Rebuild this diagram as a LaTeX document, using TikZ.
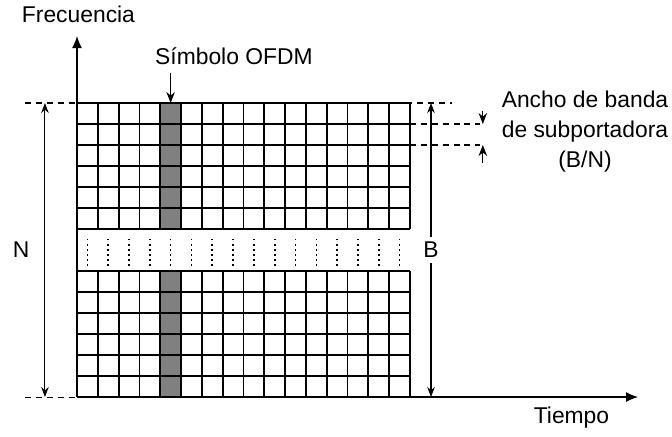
\documentclass[tikz,border=0pt]{standalone}
\usepackage{fontspec}
\setmainfont{Liberation Sans}
\usetikzlibrary{arrows.meta}
\definecolor{symbol}{HTML}{808080}
\tikzset{
  cell/.style={line width=1pt},
  axis/.style={-{Latex[length=2.4mm,width=2mm]}, line width=0.8pt},
  span/.style={{Stealth[length=2mm,width=1.5mm]}-{Stealth[length=2mm,width=1.5mm]}, line width=0.6pt},
  pointer/.style={-{Stealth[length=2.2mm,width=1.7mm]}, line width=0.6pt},
  guide/.style={dash pattern=on 3.4pt off 2.8pt, line width=0.6pt},
  lbl/.style={font=\fontsize{13pt}{17pt}\selectfont, inner sep=0pt},
}

\begin{document}
\begin{tikzpicture}[x=4.162mm, y=4.2mm]
  \useasboundingbox (-3.70,-1.857) rectangle (28.59,18.905);

  % one OFDM symbol, then the two blocks of subcarriers
  \fill[symbol] (4,0) rectangle (5,6);
  \fill[symbol] (4,8) rectangle (5,14);
  \foreach \b in {0,8} {
    \foreach \r in {0,...,6} \draw[cell] (0,\b+\r) -- (16,\b+\r);
    \foreach \c in {0,...,16} \draw[cell] (\c,\b) -- (\c,\b+6);
  }
  \foreach \c in {0,...,15} \draw[dotted, line width=0.9pt] (\c+0.5,6.24) -- (\c+0.5,7.57);

  \coordinate (O) at (0,0);
  \coordinate (ytop) at (0,17.19);
  \coordinate (xend) at (26.96,0);
  \draw[axis] (O) -- (ytop);
  \draw[axis] (O) -- (xend);
  \node[lbl, anchor=base] (freq) at (0.07,17.81) {Frecuencia};
  \node[lbl, anchor=base] (time) at (23.76,-1.24) {Tiempo};

  \node[lbl, anchor=base] (sym) at (7.54,15.81) {Símbolo OFDM};
  \coordinate (symfoot) at (4.5,15.43);
  \coordinate (symtop) at (4.5,14);
  \draw[pointer] (symfoot) -- (symtop);

  \draw[guide] (-2.5,14) -- (18.02,14);
  \draw[guide] (-2.5,0) -- (O);
  \draw[guide] (16,13) -- (19.37,13);
  \draw[guide] (16,12) -- (19.37,12);

  \coordinate (nbot) at (-1.54,0);
  \coordinate (ntop) at (-1.54,14);
  \draw[span] (nbot) -- (ntop);
  \node[lbl] (n) at (-2.69,7) {N};

  \coordinate (bbot) at (17.01,0);
  \coordinate (btop) at (17.01,14);
  \draw[span] (bbot) -- node[lbl, fill=white, inner sep=3pt] (b) {B} (btop);

  \coordinate (dn1) at (19.5,13.62);
  \coordinate (dn2) at (19.5,13);
  \coordinate (up1) at (19.5,11.14);
  \coordinate (up2) at (19.5,12);
  \draw[pointer] (dn1) -- (dn2);
  \draw[pointer] (up1) -- (up2);
  \node[lbl, align=center, anchor=north] (bw) at (24.41,14.57) {Ancho de banda\\de subportadora\\(B/N)};
\end{tikzpicture}
\end{document}
